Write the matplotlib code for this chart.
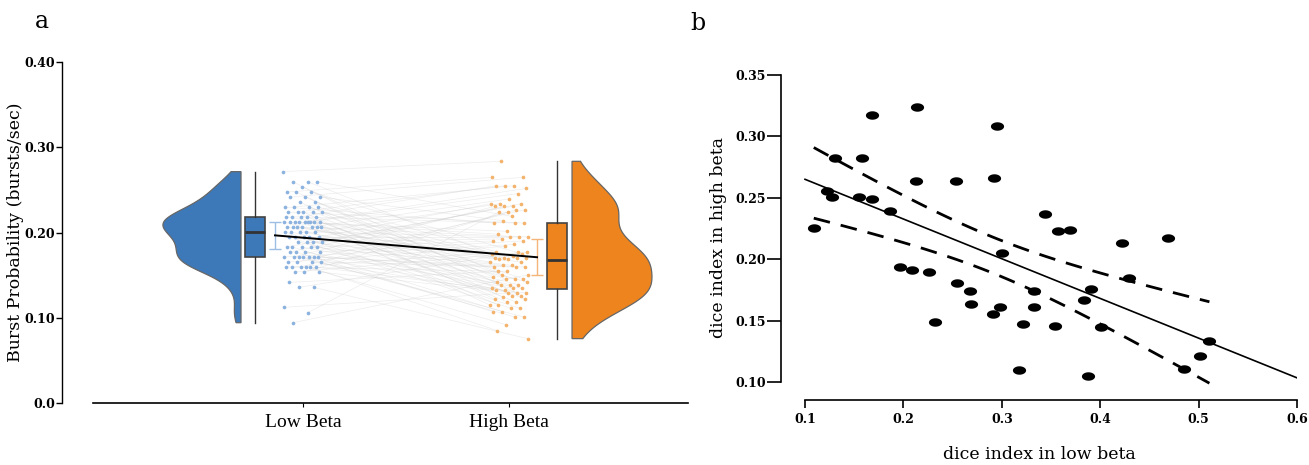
import numpy as np
import matplotlib
matplotlib.use("Agg")
import matplotlib.pyplot as plt
from matplotlib.path import Path

# ---------------- data: panel a ----------------
categories = ["Low Beta", "High Beta"]
low_levels = [0.2714, 0.2596, 0.2538, 0.2475, 0.2416, 0.2358, 0.2299, 0.2240,
              0.2186, 0.2123, 0.2065, 0.2006, 0.1947, 0.1889, 0.1830, 0.1771,
              0.1713, 0.1654, 0.1595, 0.1537, 0.1415, 0.1357, 0.1122, 0.1060, 0.0942]
low_counts = [1, 3, 1, 3, 3, 2, 4, 5,
              5, 9, 7, 5, 5, 4, 5, 4,
              7, 4, 6, 3, 1, 2, 1, 1, 1]
high_sorted = [0.2835, 0.2647, 0.2647, 0.2549, 0.2549, 0.2549, 0.2518, 0.2456,
               0.2393, 0.2338, 0.2338, 0.2338, 0.2307, 0.2307, 0.2307, 0.2268,
               0.2268, 0.2240, 0.2240, 0.2190, 0.2139, 0.2111, 0.2111, 0.2111,
               0.2014, 0.1980, 0.1947, 0.1947, 0.1947, 0.1925, 0.1900, 0.1900,
               0.1860, 0.1838, 0.1767, 0.1767, 0.1767, 0.1750, 0.1750, 0.1720,
               0.1701, 0.1701, 0.1701, 0.1701, 0.1690, 0.1690, 0.1654, 0.1654,
               0.1615, 0.1615, 0.1595, 0.1595, 0.1595, 0.1544, 0.1544, 0.1505,
               0.1505, 0.1480, 0.1455, 0.1455, 0.1455, 0.1420, 0.1420, 0.1388,
               0.1388, 0.1388, 0.1345, 0.1345, 0.1345, 0.1320, 0.1320, 0.1290,
               0.1290, 0.1290, 0.1260, 0.1260, 0.1240, 0.1220, 0.1220, 0.1185,
               0.1185, 0.1150, 0.1150, 0.1110, 0.1110, 0.1071, 0.1071, 0.1009,
               0.1009, 0.0919, 0.0848, 0.0755]
err_half = [0.0155, 0.021]

# ---------------- data: panel b ----------------
dice_low = [0.1089, 0.1221, 0.1278, 0.1306, 0.1552, 0.1580, 0.1676, 0.1676,
            0.1866, 0.1966, 0.2083, 0.2143, 0.2131, 0.2260, 0.2320, 0.2534,
            0.2542, 0.2675, 0.2691, 0.2920, 0.2908, 0.2948, 0.2997, 0.2985,
            0.3170, 0.3214, 0.3327, 0.3327, 0.3444, 0.3536, 0.3572, 0.3693,
            0.3838, 0.3907, 0.3878, 0.4007, 0.4217, 0.4297, 0.4692, 0.4849,
            0.5014, 0.5110]
dice_high = [0.2255, 0.2552, 0.2507, 0.2820, 0.2504, 0.2820, 0.3176, 0.2488,
             0.2390, 0.1934, 0.1915, 0.3241, 0.2633, 0.1899, 0.1486, 0.2636,
             0.1805, 0.1742, 0.1632, 0.2658, 0.1551, 0.3087, 0.2047, 0.1613,
             0.1100, 0.1470, 0.1737, 0.1613, 0.2369, 0.1456, 0.2226, 0.2239,
             0.1664, 0.1753, 0.1049, 0.1445, 0.2128, 0.1845, 0.2174, 0.1105,
             0.1208, 0.1332]
a_yticks = [0.0, 0.10, 0.20, 0.30, 0.40]
a_yticklabels = ["0.0", "0.10", "0.20", "0.30", "0.40"]
b_xticks = [0.1, 0.2, 0.3, 0.4, 0.5, 0.6]
b_yticks = [0.10, 0.15, 0.20, 0.25, 0.30, 0.35]

# ---------------- styling ----------------
SERIF = ["DejaVu Serif"]
BLUE = "#3d79b9"
ORANGE = "#ee841e"
BLUE_PT = "#8cb2df"
ORANGE_PT = "#f4b36c"

fig = plt.figure(figsize=(13.09, 4.65), dpi=100)

low = np.repeat(np.array(low_levels), low_counts)
n = len(low)
high_arr = np.array(high_sorted)
perm = (np.arange(n) * 37) % n
high = high_arr[perm]

# ---------------- panel a ----------------
ax = fig.add_axes([62 / 1309, 62 / 465, (688 - 62) / 1309, (403 - 62) / 465])
ax.set_xlim(-0.170, 2.869)
ax.set_ylim(0, 0.40)

pos = [1.0, 2.0]
jit = ((np.arange(n) * 0.6180339887) % 1 - 0.5) * 0.19
jit2 = ((np.arange(n) * 0.7548776662 + 0.3) % 1 - 0.5) * 0.19
xl = pos[0] + jit
xh = pos[1] + jit2

# paired lines
for i in range(n):
    ax.plot([xl[i], xh[i]], [low[i], high[i]], color="#cccccc", lw=0.5,
            alpha=0.35, zorder=1)

ax.scatter(xl, low, s=7, color=BLUE_PT, zorder=3, linewidths=0)
ax.scatter(xh, high, s=7, color=ORANGE_PT, zorder=3, linewidths=0)

# violins (half)
def kde(data, grid, bw):
    d = (grid[:, None] - data[None, :]) / bw
    return np.exp(-0.5 * d ** 2).sum(axis=1)

for data, edge, side, col, wmax, bw in [(low, 0.699, -1, BLUE, 0.379, 0.0125),
                                        (high, 2.306, 1, ORANGE, 0.388, 0.017)]:
    g = np.linspace(data.min(), data.max(), 300)
    dens = kde(data, g, bw)
    w = dens / dens.max() * wmax
    xs = np.concatenate([[edge], edge + side * w, [edge]])
    ys = np.concatenate([[g[0]], g, [g[-1]]])
    ax.fill(xs, ys, facecolor=col, edgecolor="#666666", lw=0.9, zorder=2)

# boxes
bp = ax.boxplot([low, high_arr], positions=[0.767, 2.235], widths=0.097,
                whis=(0, 100), patch_artist=True, showfliers=False,
                manage_ticks=False, zorder=2,
                medianprops=dict(color="#333333", lw=2),
                whiskerprops=dict(color="#333333", lw=1),
                capprops=dict(visible=False),
                boxprops=dict(edgecolor="#444444", lw=1.2))
for patch, col in zip(bp["boxes"], [BLUE, ORANGE]):
    patch.set_facecolor(col)

# mean +/- error
means = [low.mean(), high_arr.mean()]
ex = [0.864, 2.136]
ax.errorbar(ex[0], means[0], yerr=err_half[0], color="#9dbde3", capsize=4,
            lw=1, capthick=1, zorder=4)
ax.errorbar(ex[1], means[1], yerr=err_half[1], color="#f4b47a", capsize=4,
            lw=1, capthick=1, zorder=4)
ax.plot(ex, means, color="black", lw=1.4, zorder=5)

for s in ["top", "right"]:
    ax.spines[s].set_visible(False)
ax.spines["bottom"].set_bounds(-0.019, 2.869)
ax.spines["left"].set_linewidth(1)
ax.spines["bottom"].set_linewidth(1.2)
ax.set_yticks(a_yticks)
ax.set_yticklabels(a_yticklabels, family=SERIF, fontsize=9, fontweight="bold")
ax.tick_params(axis="y", length=4, width=1, pad=1)
ax.set_xticks(pos)
ax.set_xticklabels(categories, family=["Liberation Serif"], fontsize=14)
ax.tick_params(axis="x", length=3, width=0.8, pad=5)
ax.set_ylabel("Burst Probability (bursts/sec)", family=SERIF, fontsize=12.5,
              labelpad=0)

# ---------------- panel b ----------------
bx = fig.add_axes([781 / 1309, (465 - 400) / 465, (1297 - 781) / 1309,
                   (400 - 75) / 465])
bx.set_xlim(0.0756, 0.6)
bx.set_ylim(0.0853, 0.35)

xd = np.array(dice_low)
yd = np.array(dice_high)
slope, intercept = np.polyfit(xd, yd, 1)
xx = np.linspace(0.1, 0.6, 50)
bx.plot(xx, intercept + slope * xx, color="black", lw=1.2, zorder=2)

nn = len(xd)
res = yd - (intercept + slope * xd)
s_err = np.sqrt((res ** 2).sum() / (nn - 2))
sxx = ((xd - xd.mean()) ** 2).sum()
xc = np.linspace(xd.min(), xd.max(), 100)
half = 2.021 * s_err * np.sqrt(1 / nn + (xc - xd.mean()) ** 2 / sxx)
yc = intercept + slope * xc
bx.plot(xc, yc + half, color="black", lw=2, dashes=(6, 4), zorder=2)
bx.plot(xc, yc - half, color="black", lw=2, dashes=(6, 4), zorder=2)

t = np.linspace(0, 2 * np.pi, 60)
ell = Path(np.column_stack([np.cos(t), 0.64 * np.sin(t)]))
bx.scatter(xd, yd, s=90, marker=ell, color="black", linewidths=0, zorder=3)

for s in ["top", "right"]:
    bx.spines[s].set_visible(False)
bx.spines["bottom"].set_bounds(0.1, 0.6)
bx.spines["left"].set_bounds(0.10, 0.35)
bx.spines["left"].set_linewidth(1.2)
bx.spines["bottom"].set_linewidth(1.2)
bx.set_xticks(b_xticks)
bx.set_xticklabels([f"{v:.1f}" for v in b_xticks], family=SERIF, fontsize=9,
                   fontweight="bold")
bx.set_yticks(b_yticks)
bx.set_yticklabels([f"{v:.2f}" for v in b_yticks], family=SERIF, fontsize=9,
                   fontweight="bold")
bx.tick_params(axis="y", length=10, width=1.2, pad=1)
bx.tick_params(axis="x", length=6, width=1.2, pad=3)
bx.set_xlabel("dice index in low beta", family=SERIF, fontsize=12.5, labelpad=15)
bx.set_ylabel("dice index in high beta", family=SERIF, fontsize=12.5, labelpad=6)

fig.text(42 / 1309, 1 - 22 / 465, "a", family=SERIF, fontsize=17,
         ha="center", va="center")
fig.text(698 / 1309, 1 - 24 / 465, "b", family=SERIF, fontsize=17,
         ha="center", va="center")

fig.savefig("out.png", dpi=100)
